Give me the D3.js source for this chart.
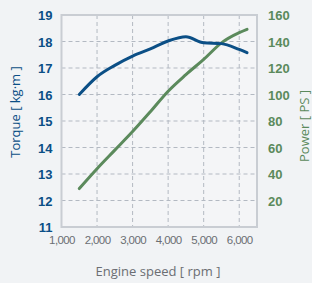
<!DOCTYPE html>
<html>
<head>
<meta charset="utf-8">
<script src="https://cdn.jsdelivr.net/npm/d3@7"></script>
<style>
  body { margin: 0; background: #f1f3f5; }
  svg { display: block; font-family: "Open Sans", "Noto Sans", sans-serif; }
</style>
</head>
<body>
<svg></svg>
<script>
var rpm = [1500, 2000, 2500, 3000, 3500, 4000, 4500, 5000, 5500, 6000, 6220]
var torque = [16.0, 16.67, 17.1, 17.45, 17.72, 18.02, 18.18, 17.95, 17.92, 17.7, 17.58]
var power = [29, 44, 58, 72, 87, 102.5, 115, 126.5, 139, 146.7, 149.2]

var xTicks = [1000, 2000, 3000, 4000, 5000, 6000]
var torqueTicks = [11, 12, 13, 14, 15, 16, 17, 18, 19]
var powerTicks = [20, 40, 60, 80, 100, 120, 140, 160]

var width = 312, height = 283
var margin = {left: 61.5, right: 55, top: 15, bottom: 56}

var blue = '#0b4f86', green = '#5b8a5c', grid = '#b3b9c2'

var svg = d3.select('svg').attr('width', width).attr('height', height)

var x = d3.scaleLinear().domain([1000, 6500]).range([margin.left, width - margin.right])
var yT = d3.scaleLinear().domain([11, 19]).range([height - margin.bottom, margin.top])
var yP = d3.scaleLinear().domain([0, 160]).range([height - margin.bottom, margin.top])

// plot area
svg.append('rect')
	.attr('x', margin.left).attr('y', margin.top)
	.attr('width', x.range()[1] - margin.left)
	.attr('height', yT.range()[0] - margin.top)
	.attr('fill', '#f4f5f7')

// dashed grid
var gridGroup = svg.append('g').attr('class', 'grid')
gridGroup.selectAll('line.v')
	.data(xTicks.slice(1))
	.enter().append('line')
	.attr('x1', function(d) {return x(d)}).attr('x2', function(d) {return x(d)})
	.attr('y1', margin.top).attr('y2', yT.range()[0])
	.attr('stroke', grid).attr('stroke-dasharray', '4,3')
gridGroup.selectAll('line.h')
	.data(torqueTicks.slice(1, -1))
	.enter().append('line')
	.attr('x1', margin.left).attr('x2', x.range()[1])
	.attr('y1', function(d) {return yT(d)}).attr('y2', function(d) {return yT(d)})
	.attr('stroke', grid).attr('stroke-dasharray', '4,3')

// frame
svg.append('rect')
	.attr('x', margin.left).attr('y', margin.top)
	.attr('width', x.range()[1] - margin.left)
	.attr('height', yT.range()[0] - margin.top)
	.attr('fill', 'none').attr('stroke', '#c9cdd3').attr('stroke-width', 2)

// axes
var xAxis = svg.append('g')
	.attr('transform', 'translate(0,' + (yT.range()[0] + 6) + ')')
	.call(d3.axisBottom(x).tickValues(xTicks).tickSize(0).tickFormat(d3.format(',')))
xAxis.select('.domain').remove()
xAxis.selectAll('text').attr('fill', '#6b6e73').style('font-size', '11.5px').style('letter-spacing', '-0.6px')

var leftAxis = svg.append('g')
	.attr('transform', 'translate(' + (margin.left - 6) + ',0)')
	.call(d3.axisLeft(yT).tickValues(torqueTicks).tickSize(0))
leftAxis.select('.domain').remove()
leftAxis.selectAll('text').attr('fill', blue).style('font-size', '13px').style('font-weight', 'bold').attr('dy', '0.35em')

var rightAxis = svg.append('g')
	.attr('transform', 'translate(' + (x.range()[1] + 8) + ',0)')
	.call(d3.axisRight(yP).tickValues(powerTicks).tickSize(0))
rightAxis.select('.domain').remove()
rightAxis.selectAll('text').attr('fill', green).style('font-size', '13px').style('font-weight', '600').attr('dy', '0.35em')

// titles
svg.append('text')
	.attr('transform', 'translate(20,112) rotate(-90)')
	.attr('text-anchor', 'middle')
	.attr('fill', blue).style('font-size', '13px')
	.text('Torque [ kg·m ]')
svg.append('text')
	.attr('transform', 'translate(309,126) rotate(-90)')
	.attr('text-anchor', 'middle')
	.attr('fill', green).style('font-size', '13px')
	.text('Power [ PS ]')
svg.append('text')
	.attr('x', 158).attr('y', 276)
	.attr('text-anchor', 'middle')
	.attr('fill', '#6b6e73').style('font-size', '13px')
	.text('Engine speed [ rpm ]')

// curves
var torqueLine = d3.line()
	.x(function(d, i) {return x(rpm[i])})
	.y(function(d) {return yT(d)})
	.curve(d3.curveMonotoneX)
var powerLine = d3.line()
	.x(function(d, i) {return x(rpm[i])})
	.y(function(d) {return yP(d)})
	.curve(d3.curveMonotoneX)

svg.append('path').datum(power)
	.attr('d', powerLine)
	.attr('fill', 'none').attr('stroke', green).attr('stroke-width', 3).attr('stroke-linecap', 'round')
svg.append('path').datum(torque)
	.attr('d', torqueLine)
	.attr('fill', 'none').attr('stroke', blue).attr('stroke-width', 3).attr('stroke-linecap', 'round')
</script>
</body>
</html>
